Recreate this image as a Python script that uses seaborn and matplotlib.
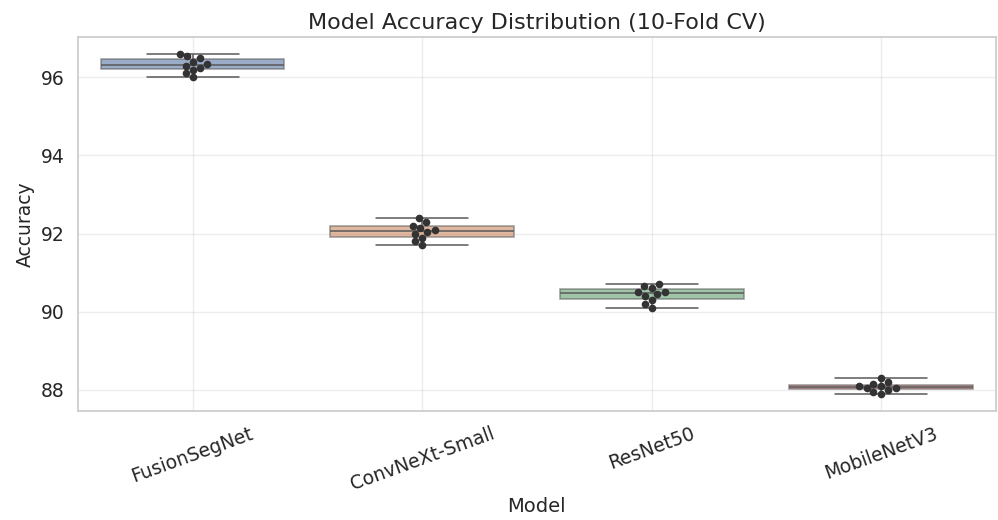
import matplotlib
matplotlib.use("Agg")
import matplotlib.pyplot as plt
import seaborn as sns
import pandas as pd

models = ["FusionSegNet", "ConvNeXt-Small", "ResNet50", "MobileNetV3"]
fusion = [96.0, 96.1, 96.2, 96.25, 96.3, 96.35, 96.4, 96.5, 96.55, 96.6]
convnext = [91.7, 91.8, 91.9, 92.0, 92.05, 92.1, 92.15, 92.2, 92.3, 92.4]
resnet = [90.1, 90.2, 90.3, 90.4, 90.45, 90.5, 90.5, 90.6, 90.65, 90.7]
mobilenet = [87.9, 87.95, 88.0, 88.05, 88.05, 88.1, 88.1, 88.15, 88.2, 88.3]

rows = []
for m, vals in zip(models, [fusion, convnext, resnet, mobilenet]):
    for v in vals:
        rows.append({"Model": m, "Accuracy": v})
df = pd.DataFrame(rows)

sns.set_theme(style="whitegrid")
fig, ax = plt.subplots(figsize=(9.98, 5.2), dpi=100)
sns.boxplot(data=df, x="Model", y="Accuracy", hue="Model", palette="deep",
            width=0.8, ax=ax, legend=False, boxprops=dict(alpha=0.6),
            linecolor="0.35", linewidth=1.1)
sns.swarmplot(data=df, x="Model", y="Accuracy", color="0.2", size=5.5, ax=ax)
ax.set_title("Model Accuracy Distribution (10-Fold CV)", fontsize=16)
ax.set_xlabel("Model", fontsize=14, labelpad=2)
ax.set_ylabel("Accuracy", fontsize=13.5)
ax.tick_params(axis="x", labelrotation=20, labelsize=13.5)
ax.tick_params(axis="y", labelsize=13.5)
ax.grid(True, alpha=0.35)
fig.subplots_adjust(left=0.078, right=0.998, top=0.929, bottom=0.21)
fig.savefig("out.png", dpi=100)
